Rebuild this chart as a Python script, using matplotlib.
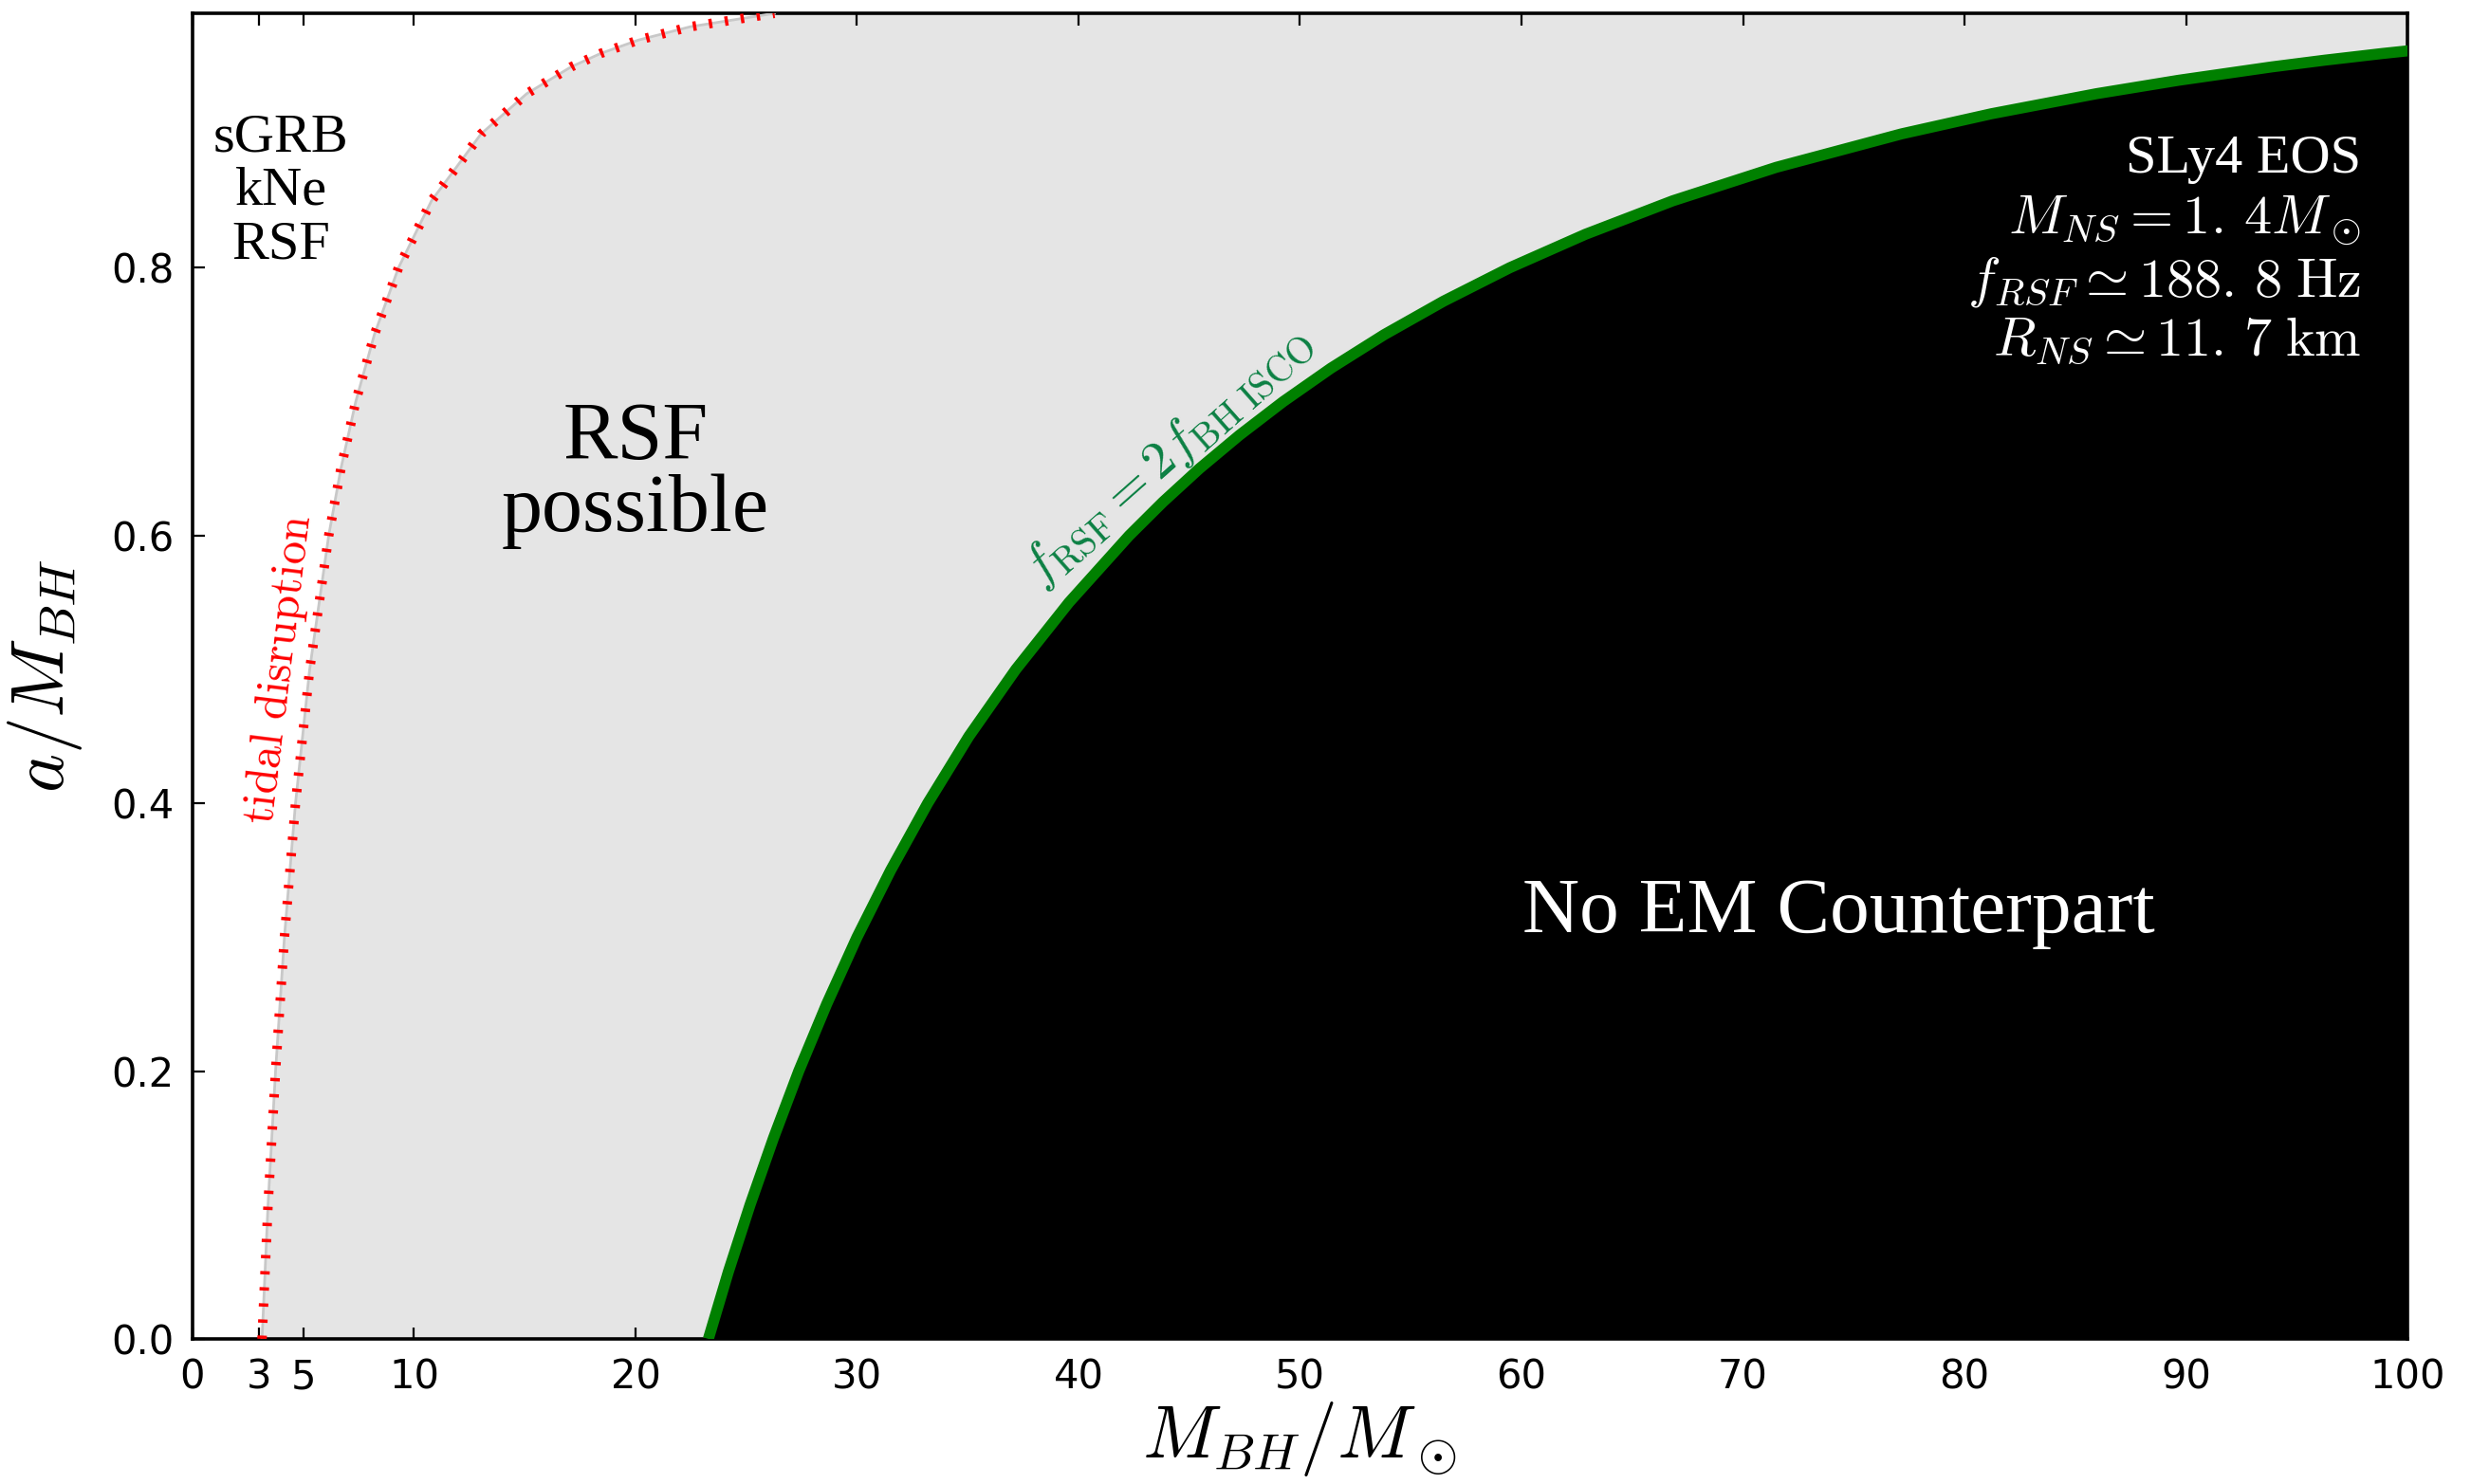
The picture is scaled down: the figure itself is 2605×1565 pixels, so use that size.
#!/usr/bin/env python
"""Regions of the BH-NS parameter plane: tidal disruption vs. RSF vs. no EM counterpart."""

from __future__ import annotations

import matplotlib

matplotlib.use("Agg")
import matplotlib.pyplot as plt


# tidal disruption boundary (SLy4, M_NS = 1.4 M_sun): spin a/M_BH and M_BH/M_sun
TIDAL_SPIN = [0.0, 0.1, 0.2, 0.3, 0.4, 0.5, 0.6, 0.65, 0.7, 0.75,
              0.8, 0.85, 0.9, 0.93, 0.95, 0.96, 0.97, 0.98, 0.99]
TIDAL_MASS = [3.14, 3.41, 3.75, 4.15, 4.65, 5.29, 6.15, 6.70, 7.37, 8.21,
              9.30, 10.79, 13.03, 15.09, 17.09, 18.42, 20.12, 22.47, 26.27]

# f_RSF = 2 f_ISCO boundary: spin a/M_BH and M_BH/M_sun
ISCO_SPIN = [0.0, 0.05, 0.1, 0.15, 0.2, 0.25, 0.3, 0.35, 0.4, 0.45, 0.5, 0.55,
             0.6, 0.625, 0.65, 0.675, 0.7, 0.725, 0.75, 0.775, 0.8, 0.825,
             0.85, 0.875, 0.9, 0.915, 0.93, 0.94, 0.95, 0.955, 0.96, 0.965,
             0.97, 0.98, 0.99]
ISCO_MASS = [23.29, 24.19, 25.17, 26.23, 27.37, 28.63, 30.00, 31.52, 33.19, 35.05,
             37.17, 39.57, 42.29, 43.81, 45.46, 47.27, 49.24, 51.40, 53.80, 56.48,
             59.47, 62.89, 66.83, 71.50, 77.16, 81.21, 85.96, 89.66, 93.87, 96.25,
             98.86, 101.74, 104.97, 112.93, 124.73]

X_TICKS = [0, 3, 5, 10, 20, 30, 40, 50, 60, 70, 80, 90, 100]
Y_TICKS = [0.0, 0.2, 0.4, 0.6, 0.8]

INFO_LINES = [
    "SLy4 EOS",
    r"$M_{NS}=1.\,4M_\odot$",
    r"$f_{RSF}\simeq188.\,8\;\mathrm{Hz}$",
    r"$R_{NS}\simeq11.\,7\;\mathrm{km}$",
]
INFO_Y = [0.881, 0.835, 0.789, 0.745]

SERIF = "Liberation Serif"


def plot_regions(path: str) -> None:
    plt.rcParams["mathtext.fontset"] = "cm"
    plt.rcParams["font.family"] = "DejaVu Sans"

    fig = plt.figure(figsize=(13.025, 7.825), dpi=200)
    ax = fig.add_axes([0.0779, 0.0978, 0.9743 - 0.0779, 0.991 - 0.0978])
    ax.set_facecolor("#e5e5e5")

    # white where the NS is disrupted, black beyond the ISCO condition
    ax.fill_betweenx(TIDAL_SPIN, -5, TIDAL_MASS, color="white", lw=0)
    ax.fill_betweenx(ISCO_SPIN, ISCO_MASS, 140, color="black", lw=0)

    # tidal disruption boundary: thin edge plus red bars
    ax.plot(TIDAL_MASS, TIDAL_SPIN, color="#c8c8c8", lw=1.0, zorder=3)
    ax.plot(TIDAL_MASS, TIDAL_SPIN, color="red", lw=3.6, dashes=(0.35, 1.35),
            dash_capstyle="butt", zorder=4)

    # f_RSF = 2 f_ISCO boundary
    ax.plot(ISCO_MASS, ISCO_SPIN, color="#008000", lw=4.2, solid_capstyle="butt", zorder=4)

    ax.set_xlim(0, 100)
    ax.set_ylim(0, 0.99)
    ax.set_xticks(X_TICKS)
    ax.set_yticks(Y_TICKS)
    ax.set_yticklabels([f"{v:.1f}" for v in Y_TICKS])
    ax.tick_params(direction="in", length=4.5, width=0.8, labelsize=15, pad=7,
                   top=True, right=True)
    for spine in ax.spines.values():
        spine.set_linewidth(1.3)

    ax.set_xlabel(r"$M_{BH}/M_\odot$", fontsize=28, labelpad=1)
    ax.set_ylabel(r"$a/M_{BH}$", fontsize=28, labelpad=10)

    ax.text(4.0, 0.857, "sGRB\nkNe\nRSF", family=SERIF, fontsize=21,
            ha="center", va="center", linespacing=1.12)
    ax.text(20.0, 0.645, "RSF\npossible", family=SERIF, fontsize=31,
            ha="center", va="center", linespacing=0.95)
    ax.text(74.3, 0.318, "No EM Counterpart", family=SERIF, fontsize=30,
            color="white", ha="center", va="center")

    for y, line in zip(INFO_Y, INFO_LINES):
        ax.text(97.9, y, line, family=SERIF, fontsize=21, color="white",
                ha="right", va="center")

    ax.text(3.95, 0.50, r"$\mathrm{tidal\ disruption}$", color="red", fontsize=17.5,
            rotation=83, rotation_mode="anchor", ha="center", va="center")
    ax.text(44.0, 0.66, r"$f_{\rm RSF}=2f_{\rm BH\ ISCO}$", color="#0b8043",
            fontsize=20, rotation=41.5, rotation_mode="anchor",
            ha="center", va="center")

    fig.savefig(path, dpi=200)
    plt.close(fig)


def main() -> int:
    plot_regions("out.png")
    return 0


if __name__ == "__main__":
    raise SystemExit(main())
